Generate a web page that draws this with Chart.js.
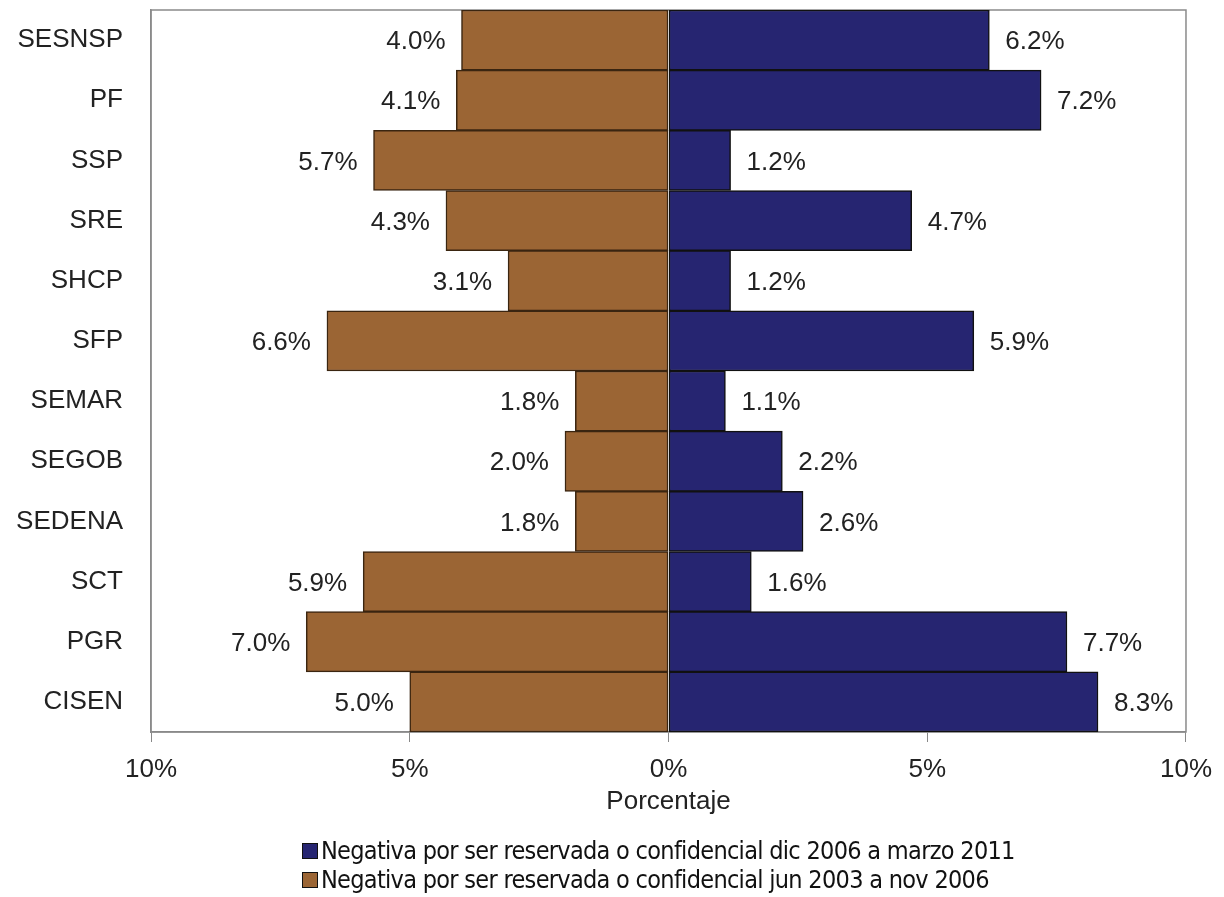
<!DOCTYPE html>
<html>
<head>
<meta charset="utf-8">
<script src="https://cdn.jsdelivr.net/npm/chart.js@4"></script>
<style>
  html, body { margin: 0; padding: 0; background: #fff; }
  #wrap { position: relative; width: 1224px; height: 897px; }
  #legend { position: absolute; left: 302px; top: 836px; font-family: "Liberation Sans Narrow", "DejaVu Sans Condensed", sans-serif; font-size: 25px; letter-spacing: -0.7px; color: #111; }
  #legend div { height: 29px; line-height: 29px; white-space: nowrap; }
  #legend span { display: inline-block; width: 14px; height: 14px; border: 1px solid #111; margin-right: 3px; vertical-align: 0px; }
</style>
</head>
<body>
<div id="wrap">
  <canvas id="myChart" width="1224" height="897"></canvas>
  <div id="legend"></div>
</div>
<script>
// categories, top to bottom
const categories = ['SESNSP', 'PF', 'SSP', 'SRE', 'SHCP', 'SFP', 'SEMAR', 'SEGOB', 'SEDENA', 'SCT', 'PGR', 'CISEN'];
// dic 2006 - marzo 2011 (right side)
const recent = [6.2, 7.2, 1.2, 4.7, 1.2, 5.9, 1.1, 2.2, 2.6, 1.6, 7.7, 8.3];
// jun 2003 - nov 2006 (left side)
const earlier = [4.0, 4.1, 5.7, 4.3, 3.1, 6.6, 1.8, 2.0, 1.8, 5.9, 7.0, 5.0];
const xTicks = [-10, -5, 0, 5, 10];
const seriesNames = [
    'Negativa por ser reservada o confidencial dic 2006 a marzo 2011',
    'Negativa por ser reservada o confidencial jun 2003 a nov 2006'
];

document.addEventListener('DOMContentLoaded', function () {
    const ctx = document.getElementById('myChart').getContext('2d');
    const navy = '#262571';
    const brown = '#9b6534';

    // value labels at the end of each bar
    const valueLabels = {
        id: 'valueLabels',
        afterDatasetsDraw(chart) {
            const c = chart.ctx;
            c.save();
            c.font = '26px "Liberation Sans", Arial, sans-serif';
            c.fillStyle = '#222';
            c.textBaseline = 'middle';
            chart.data.datasets.forEach((ds, i) => {
                const meta = chart.getDatasetMeta(i);
                meta.data.forEach((bar, j) => {
                    const v = Math.abs(ds.data[j]);
                    const txt = v.toFixed(1) + '%';
                    if (ds.data[j] >= 0) {
                        c.textAlign = 'left';
                        c.fillText(txt, bar.x + 16, bar.y + 2);
                    } else {
                        c.textAlign = 'right';
                        c.fillText(txt, bar.x - 16, bar.y + 2);
                    }
                });
            });
            c.restore();
        }
    };

    // grey frame around the plot area
    const frame = {
        id: 'frame',
        beforeDatasetsDraw(chart) {
            const a = chart.chartArea;
            const c = chart.ctx;
            c.save();
            c.strokeStyle = '#8a8a8a';
            c.lineWidth = 1.5;
            c.strokeRect(a.left, a.top, a.right - a.left, a.bottom - a.top);
            c.restore();
        }
    };

    new Chart(ctx, {
        type: 'bar',
        data: {
            labels: categories,
            datasets: [{
                label: seriesNames[0],
                data: recent,
                backgroundColor: navy,
                borderColor: '#111',
                borderWidth: 1.5,
                borderSkipped: false,
                barPercentage: 1,
                categoryPercentage: 1
            }, {
                label: seriesNames[1],
                data: earlier.map(v => -v),
                backgroundColor: brown,
                borderColor: '#3a2510',
                borderWidth: 1.5,
                borderSkipped: false,
                barPercentage: 1,
                categoryPercentage: 1
            }]
        },
        options: {
            indexAxis: 'y',
            responsive: false,
            animation: false,
            layout: { padding: { top: 10, right: 36, left: 0, bottom: 80 } },
            plugins: {
                legend: { display: false },
                tooltip: { enabled: false }
            },
            scales: {
                x: {
                    stacked: true,
                    min: -10,
                    max: 10,
                    afterBuildTicks: s => { s.ticks = xTicks.map(v => ({ value: v })); },
                    afterFit: s => { s.height = 85; },
                    grid: { drawOnChartArea: false, drawTicks: true, tickLength: 10, color: '#888' },
                    border: { display: true, color: '#888', width: 1.5 },
                    ticks: {
                        padding: 12,
                        color: '#222',
                        font: { family: '"Liberation Sans", Arial, sans-serif', size: 26 },
                        callback: v => Math.abs(v) + '%'
                    },
                    title: {
                        display: true,
                        text: 'Porcentaje',
                        color: '#222',
                        padding: { top: 0, bottom: 0 },
                        font: { family: '"Liberation Sans", Arial, sans-serif', size: 26 }
                    }
                },
                y: {
                    stacked: true,
                    afterFit: s => {
                        s.width = 151;
                        s.paddingTop = 0;
                        s.paddingBottom = 0;
                    },
                    grid: { display: false },
                    border: { display: true, color: '#888', width: 1.5 },
                    ticks: {
                        padding: 20,
                        color: '#222',
                        font: { family: '"Liberation Sans", Arial, sans-serif', size: 26 }
                    }
                }
            }
        },
        plugins: [frame, valueLabels]
    });

    // legend below the chart
    const legend = document.getElementById('legend');
    [navy, brown].forEach((col, i) => {
        const row = document.createElement('div');
        const sw = document.createElement('span');
        sw.style.background = col;
        row.appendChild(sw);
        row.appendChild(document.createTextNode(seriesNames[i]));
        legend.appendChild(row);
    });
});
</script>
</body>
</html>
